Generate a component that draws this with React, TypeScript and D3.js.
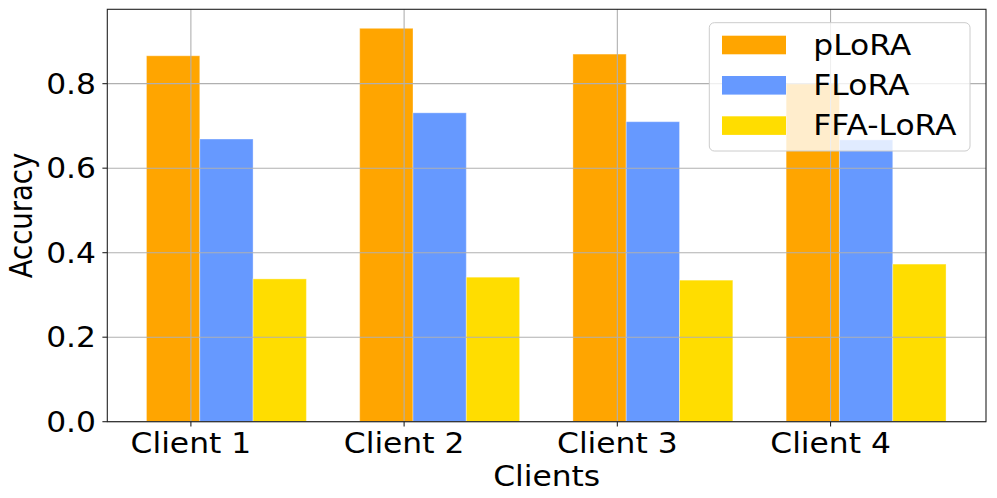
import React from "react";
import * as d3 from "d3";

const categories = ["Client 1", "Client 2", "Client 3", "Client 4"];
const seriesNames = ["pLoRA", "FLoRA", "FFA-LoRA"];
const pLoRA = [0.866, 0.931, 0.870, 0.800];
const FLoRA = [0.669, 0.731, 0.710, 0.667];
const FFALoRA = [0.338, 0.342, 0.335, 0.373];
const yTicks = [0.0, 0.2, 0.4, 0.6, 0.8];
const colors = ["#FFA500", "#6699FF", "#FFDD00"];

const W = 997;
const H = 498;
const left = 107.3;
const right = 986;
const top = 9.3;
const bottom = 421.7;
const FONT = "DejaVu Sans, sans-serif";
const FS = 27.5;
const SX = 1.14;

export default function App() {
  const series = [pLoRA, FLoRA, FFALoRA];
  const barW = 0.25;
  const offsets = [-1 / 12, 1 / 6, 5 / 12];
  const x = d3.scaleLinear().domain([-0.392, 3.729]).range([left, right]);
  const y = d3.scaleLinear().domain([0, 0.976]).range([bottom, top]);
  const cx = (i: number) => x(i);

  const legendX = 709.3;
  const legendY = 22.7;
  const legendW = 260.7;
  const legendH = 128.3;

  const T = (px: number, py: number, extra = "") => `translate(${px},${py}) scale(${SX},1)${extra}`;

  return (
    <svg
      width={W}
      height={H}
      style={{ position: "fixed", left: 0, top: 0, background: "white" }}
      fontFamily={FONT}
    >
      <rect x={0} y={0} width={W} height={H} fill="white" />
      {series.map((vals, s) =>
        vals.map((v, i) => {
          const x0 = x(i + offsets[s] - barW / 2);
          const x1 = x(i + offsets[s] + barW / 2);
          return (
            <rect
              key={`${s}-${i}`}
              x={x0}
              y={y(v)}
              width={x1 - x0}
              height={y(0) - y(v)}
              fill={colors[s]}
              stroke="white"
              strokeOpacity={0.35}
              strokeWidth={1}
            />
          );
        })
      )}
      {yTicks.map((t) => (
        <line key={`gy${t}`} x1={left} x2={right} y1={y(t)} y2={y(t)} stroke="#b0b0b0" strokeWidth={1.1} />
      ))}
      {categories.map((c, i) => (
        <line key={`gx${c}`} x1={cx(i)} x2={cx(i)} y1={top} y2={bottom} stroke="#b0b0b0" strokeWidth={1.1} />
      ))}
      <rect x={left} y={top} width={right - left} height={bottom - top} fill="none" stroke="#222" strokeWidth={1.1} />
      {yTicks.map((t) => (
        <g key={`yt${t}`}>
          <line x1={left - 4.9} x2={left} y1={y(t)} y2={y(t)} stroke="#222" strokeWidth={1.1} />
          <text transform={T(96, y(t) + 10)} textAnchor="end" fontSize={FS} fill="#000">
            {d3.format(".1f")(t)}
          </text>
        </g>
      ))}
      {categories.map((c, i) => (
        <g key={`xt${c}`}>
          <line x1={cx(i)} x2={cx(i)} y1={bottom} y2={bottom + 4.9} stroke="#222" strokeWidth={1.1} />
          <text transform={T(cx(i), 452.7)} textAnchor="middle" fontSize={FS} fill="#000">
            {c}
          </text>
        </g>
      ))}
      <text transform={T((left + right) / 2, 486)} textAnchor="middle" fontSize={FS} fill="#000">
        Clients
      </text>
      <text transform={T(32, (top + bottom) / 2, " rotate(-90)")} textAnchor="middle" fontSize={FS} fill="#000">
        Accuracy
      </text>
      <rect
        x={legendX}
        y={legendY}
        width={legendW}
        height={legendH}
        rx={5}
        fill="white"
        fillOpacity={0.8}
        stroke="#cccccc"
        strokeWidth={1}
      />
      {seriesNames.map((n, s) => {
        const rowY = 45 + s * 40.3;
        return (
          <g key={`lg${n}`}>
            <rect x={722} y={rowY - 9.3} width={64} height={18.6} fill={colors[s]} />
            <text transform={T(813.3, rowY + 9.5)} fontSize={FS} fill="#000">
              {n}
            </text>
          </g>
        );
      })}
    </svg>
  );
}
